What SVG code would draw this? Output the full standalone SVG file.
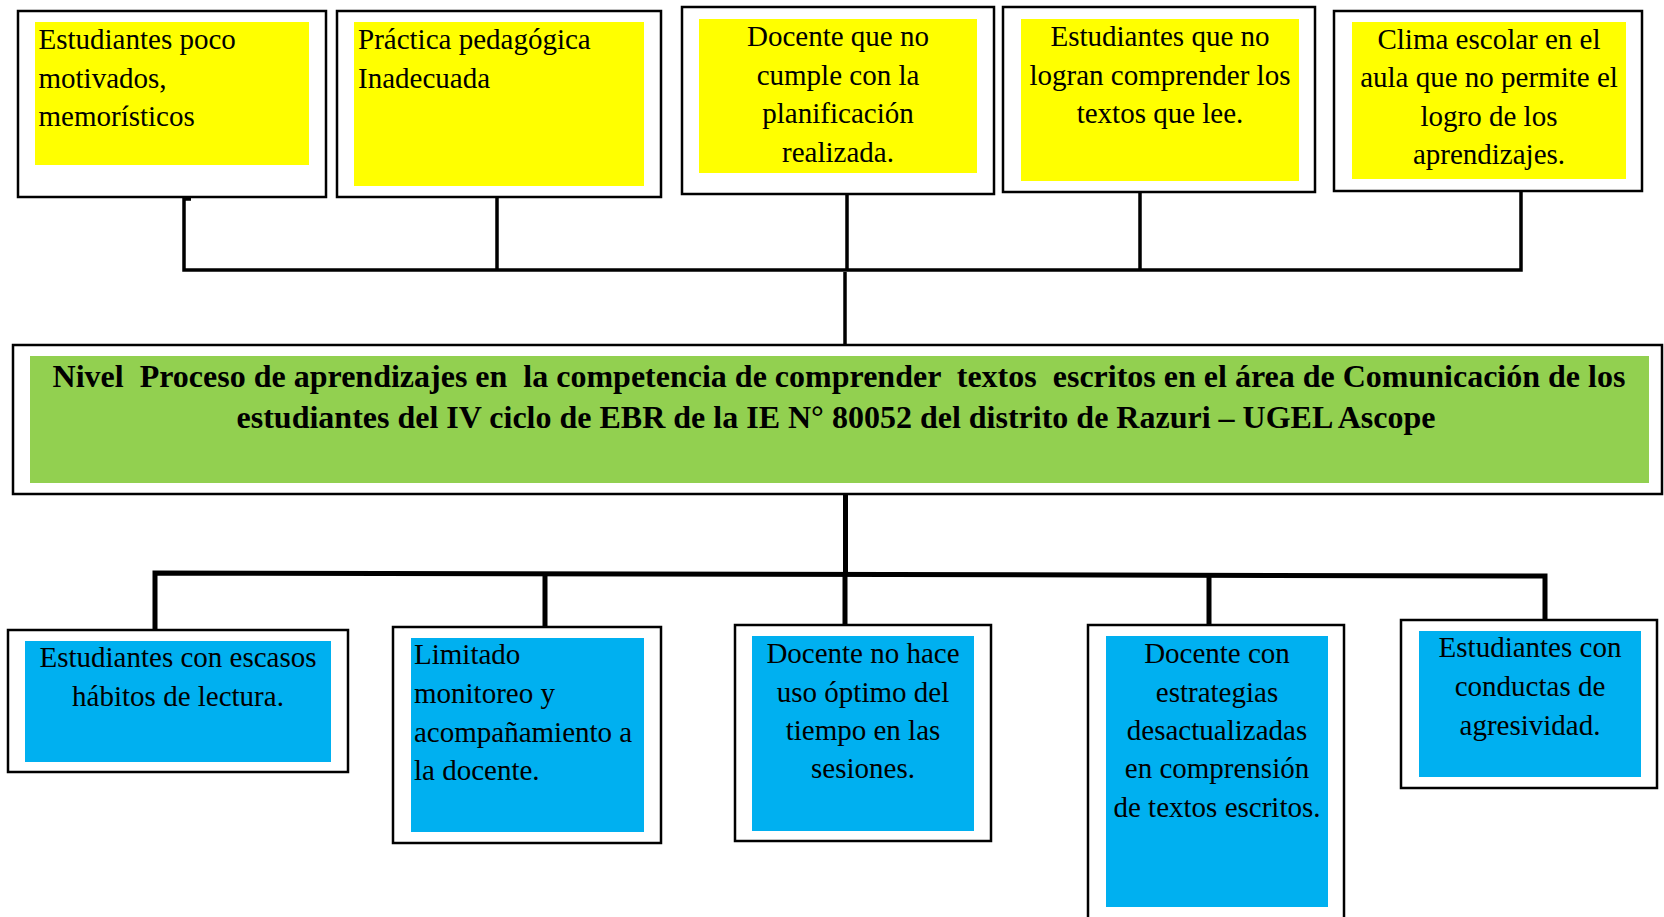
<svg xmlns="http://www.w3.org/2000/svg" width="1664" height="917" viewBox="0 0 1664 917">
<style>
.frame{fill:#fff;stroke:#000;stroke-width:2.5}
.yel{fill:#ffff00}
.grn{fill:#92d050}
.blu{fill:#00b0f0}
text{font-family:"Liberation Serif","Times New Roman",serif;font-size:29px;fill:#000}
.c{text-anchor:middle}
.t{font-size:32px;font-weight:bold;text-anchor:middle;white-space:pre}
.thin{fill:none;stroke:#000;stroke-width:3.5}
.thick{fill:none;stroke:#000;stroke-width:5}
</style>
<rect width="1664" height="917" fill="#fff"/>
<g id="connectors">
<path class="thin" d="M191,199 H184 V270 H1521 V191"/>
<path class="thin" d="M497,197 V270 M847,194 V270 M1140,192 V270"/>
<path class="thin" d="M845,272 V345"/>
<path class="thick" d="M845.5,494 V575"/>
<path class="thick" d="M155,632 V573 L1545,576 V620"/>
<path class="thick" d="M545,574 V627 M845,575 V625 M1209,576 V625"/>
</g>
<g id="n1">
<rect class="frame" x="18" y="11" width="308" height="186"/>
<rect class="yel" x="35" y="22" width="274" height="143"/>
<text x="38.5" y="49">Estudiantes poco</text>
<text x="38.5" y="88">motivados,</text>
<text x="38.5" y="126">memorísticos</text>
</g>
<g id="n2">
<rect class="frame" x="337" y="11" width="324" height="186"/>
<rect class="yel" x="354" y="22" width="290" height="164"/>
<text x="358" y="49">Práctica pedagógica</text>
<text x="358" y="88">Inadecuada</text>
</g>
<g id="n3">
<rect class="frame" x="682" y="7" width="312" height="187"/>
<rect class="yel" x="699" y="19" width="278" height="154"/>
<text class="c" x="838" y="46">Docente que no</text>
<text class="c" x="838" y="84.5">cumple con la</text>
<text class="c" x="838" y="123">planificación</text>
<text class="c" x="838" y="161.5">realizada.</text>
</g>
<g id="n4">
<rect class="frame" x="1003" y="7" width="312" height="185"/>
<rect class="yel" x="1021" y="19" width="278" height="162"/>
<text class="c" x="1160" y="46">Estudiantes que no</text>
<text class="c" x="1160" y="84.5">logran comprender los</text>
<text class="c" x="1160" y="123">textos que lee.</text>
</g>
<g id="n5">
<rect class="frame" x="1334" y="11" width="308" height="180"/>
<rect class="yel" x="1352" y="22" width="274" height="157"/>
<text class="c" x="1489" y="48.5">Clima escolar en el</text>
<text class="c" x="1489" y="87">aula que no permite el</text>
<text class="c" x="1489" y="125.5">logro de los</text>
<text class="c" x="1489" y="164">aprendizajes.</text>
</g>
<g id="main">
<rect class="frame" x="13" y="345" width="1649" height="149"/>
<rect class="grn" x="30" y="356" width="1619" height="127"/>
<text class="t" x="839" y="387">Nivel  Proceso de aprendizajes en  la competencia de comprender  textos  escritos en el área de Comunicación de los</text>
<text class="t" x="836" y="428">estudiantes del IV ciclo de EBR de la IE N° 80052 del distrito de Razuri – UGEL Ascope</text>
</g>
<g id="b1">
<rect class="frame" x="8" y="630" width="340" height="142"/>
<rect class="blu" x="25" y="641" width="306" height="121"/>
<text class="c" x="178" y="667">Estudiantes con escasos</text>
<text class="c" x="178" y="706">hábitos de lectura.</text>
</g>
<g id="b2">
<rect class="frame" x="393" y="627" width="268" height="216"/>
<rect class="blu" x="411" y="638" width="233" height="194"/>
<text x="414" y="664">Limitado</text>
<text x="414" y="703">monitoreo y</text>
<text x="414" y="742">acompañamiento a</text>
<text x="414" y="780">la docente.</text>
</g>
<g id="b3">
<rect class="frame" x="735" y="625" width="256" height="216"/>
<rect class="blu" x="752" y="636" width="222" height="195"/>
<text class="c" x="863" y="663">Docente no hace</text>
<text class="c" x="863" y="702">uso óptimo del</text>
<text class="c" x="863" y="740">tiempo en las</text>
<text class="c" x="863" y="778">sesiones.</text>
</g>
<g id="b4">
<rect class="frame" x="1088" y="625" width="256" height="310"/>
<rect class="blu" x="1106" y="636" width="222" height="271"/>
<text class="c" x="1217" y="663">Docente con</text>
<text class="c" x="1217" y="702">estrategias</text>
<text class="c" x="1217" y="740">desactualizadas</text>
<text class="c" x="1217" y="778">en comprensión</text>
<text class="c" x="1217" y="817">de textos escritos.</text>
</g>
<g id="b5">
<rect class="frame" x="1401" y="620" width="256" height="168"/>
<rect class="blu" x="1419" y="631" width="222" height="146"/>
<text class="c" x="1530" y="657">Estudiantes con</text>
<text class="c" x="1530" y="696">conductas de</text>
<text class="c" x="1530" y="735">agresividad.</text>
</g>
</svg>
